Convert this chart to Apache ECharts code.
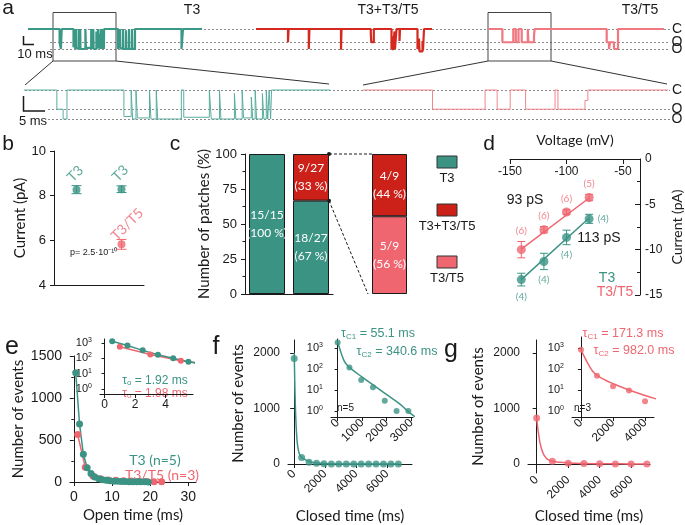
<!DOCTYPE html>
<html><head><meta charset="utf-8"><title>chart</title>
<script src="https://cdn.jsdelivr.net/npm/echarts@6/dist/echarts.min.js"></script>
<style>html,body{margin:0;padding:0;background:#fff;}#chart{width:685px;height:525px;}</style>
</head><body><div id="chart"></div>
<script>
// ================= DATA =================
// Panel a: idealised single-channel recordings, [time (ms), current (pA) from that time on]
const traceLevels = { C: 0, O1: -5.5, O2: -8.3 };
const traceT3 = [[0,0],[31.6,-5.5],[32.9,-8.3],[33.7,0],[45.5,-7.6],[47.0,0],[47.3,-8.3],[48.0,0],[48.3,-8.0],[50.8,0],[51.1,-8.3],[52.2,0],[52.5,-8.3],[57.4,0],[57.9,-7.8],[63.2,0],[63.6,-8.3],[65.3,0],[65.6,-8.3],[68.4,-1],[68.7,-8.3],[70.0,0],[70.3,-8.0],[71.9,-2],[72.2,-8.3],[72.7,0],[73.0,-8.3],[74.2,-1],[74.5,-8.3],[75.0,0],[75.3,-8.3],[75.6,0],[75.9,-8.3],[76.1,0],[90,-8.3],[92,0],[92.3,-8.0],[95,0],[95.4,-8.3],[98,-0.5],[98.4,-8.3],[101,0],[101.3,-8.3],[104,0],[104.4,-8.3],[107,0],[153.5,-8.3],[155,0],[174,0]];
const traceMix = [[0,0],[32,-5.5],[32.6,0],[52.8,-8.3],[53.4,0],[85,-8.6],[85.5,0],[114.8,-2],[115.3,-5.5],[117.8,0],[135.5,-8.3],[136.5,-3],[137,-8.8],[138.5,-1],[139,-8.3],[140.5,0],[143.5,-5],[144,0],[161.5,-8.3],[163,-4],[163.5,-9.3],[166.5,-5],[167,-8.8],[168,0],[176,0]];
const traceT3T5 = [[0,0],[14.4,-5.5],[25.3,0],[27.8,-5.5],[30.5,0],[33.7,-5.5],[39.8,0],[40.4,-5.5],[46,-3],[46.6,0],[118.7,-5.5],[121,-8.3],[122,-5.5],[126,-8.3],[130,0],[176,0]];
const traceT3Window = [25, 88];
const traceT3T5Window = [0, 63];
const rowTitles = ['T3', 'T3+T3/T5', 'T3/T5'];
const mixEventLabels = ['T3/T5','T3','T3','T3/T5','T3','T3/T5','T3'];

// Panel b
const bGroups = ['T3', 'T3+T5'];
const bT3Mean = [8.27, 8.29], bT3Err = [0.18, 0.15], bT3N = [15, 22];
const bHetMean = [null, 5.82], bHetErr = [null, 0.22], bHetN = [null, 9];
const bPText = 'p= 2.5·10⁻¹⁰';

// Panel c
const cGroups = ['T3', 'T3+T5'];
const cT3Count = [15, 18], cMixCount = [null, 9], cTotal = [15, 27];
const cSplitCount = [4, 5], cSplitTotal = 9;          // T3+T3/T5, T3/T5
const cLegend = ['T3', 'T3+T3/T5', 'T3/T5'];

// Panel d
const dVoltage = [-140, -120, -100, -80];
const dT3 = [-13.3, -11.3, -8.65, -6.6], dT3Err = [0.7, 0.9, 0.8, 0.5], dT3N = [4, 4, 4, 4];
const dHet = [-10.0, -7.8, -5.85, -4.25], dHetErr = [0.9, 0.35, 0.25, 0.35], dHetN = [6, 6, 6, 5];
const dFitT3 = [[-140, -13.3], [-80, -6.5]];
const dFitHet = [[-140, -9.95], [-80, -4.3]];
const dConductance = ['113 pS', '93 pS'];

// Panel e: open-time histogram
const eOpenT3 = [[0.5,1300],[1.5,690],[2.5,330],[3.5,170],[4.5,100],[5.5,60],[6.5,40],[7.5,28],[8.5,20],[9.5,14],[10.5,10],[11.5,8],[12.5,6],[13.5,5],[14.5,4],[15.5,3],[16.5,3],[17.5,2],[18.5,2],[19.5,1]];
const eOpenHet = [[1,565],[3,175],[5,70],[7,40],[9,25],[11,20],[13,15],[15,12],[17,9],[19,6],[21,4],[23,3]];
const eTau = ['1.92 ms', '1.98 ms'];
const eLegend = ['T3 (n=5)', 'T3/T5 (n=3)'];

// Panel f: closed-time histogram, T3
const fClosed = [[0,1900],[480,119],[960,30.5],[1440,13.6],[1920,3.1],[2400,1.0],[2880,1.0],[3360,0.6],[3840,0.5],[4320,0.5],[4800,0.5],[5280,0.5],[5760,0.5],[6240,0.5],[6720,0.5]];
const fFit = [[0,2000],[50,1300],[100,850],[150,560],[200,380],[300,210],[400,150],[500,115],[1000,42],[1500,16],[2000,6],[2500,2.3],[3060,0.64],[4000,0.12],[5000,0.02],[6720,0.001]];
const fTau = ['55.1 ms', '340.6 ms'], fN = 'n=5';

// Panel g: closed-time histogram, T3/T5
const gClosed = [[0,830],[1000,48],[2000,15],[3000,9.5],[4000,2.9],[5000,1.5],[6000,1],[7000,1]];
const gFit = [[0,830],[200,400],[400,200],[600,110],[800,68],[1000,50],[1500,30],[2000,20],[3000,10],[4000,5.5],[4580,4],[6000,2],[7000,1.2]];
const gTau = ['171.3 ms', '982.0 ms'], gN = 'n=3';

// ================= STYLE / LAYOUT =================
const TEAL = '#3b9384', RED = '#cc2119', PINK = '#ef6670', AX = '#1a1a1a';
const FONT = '"Liberation Sans", Arial, sans-serif';
const TFONT = 'Lato, "Liberation Sans", sans-serif';

function merge(a, b) {
  const r = Object.assign({}, a);
  for (const k in b) {
    if (b[k] && typeof b[k] === 'object' && !Array.isArray(b[k]) && a[k] && typeof a[k] === 'object' && !Array.isArray(a[k])) r[k] = merge(a[k], b[k]);
    else r[k] = b[k];
  }
  return r;
}
const baseAxis = {
  type: 'value',
  splitLine: { show: false },
  axisLine: { show: true, lineStyle: { color: AX, width: 1 } },
  axisTick: { show: true, length: 4, lineStyle: { color: AX } },
  axisLabel: { color: AX, fontSize: 12, fontFamily: FONT, formatter: v => String(v) },
  nameTextStyle: { color: AX, fontFamily: TFONT, fontSize: 15 }
};
const vAxis = o => merge(baseAxis, o);
const hidden = o => Object.assign({ type: 'value', show: false }, o);

const grids = [], xAxes = [], yAxes = [], series = [], graphics = [], rotItems = [];
function addGrid(g, x, y) {
  grids.push(g); const i = grids.length - 1;
  xAxes.push(Object.assign({ gridIndex: i }, x));
  yAxes.push(Object.assign({ gridIndex: i }, y));
  return i;
}
function txt(x, y, s, o) {
  return { type: 'text', x, y, style: Object.assign({ text: s, fill: AX, fontSize: 13, fontFamily: FONT, align: 'center', verticalAlign: 'middle' }, o || {}) };
}
// rotated text: drawn as a rotated series label on a full-canvas overlay grid
function rtxt(x, y, s, deg, o) {
  o = o || {};
  rotItems.push({ value: [x, y], label: { show: true, formatter: s, position: [0, 0], rotate: deg,
    align: o.align || 'center', verticalAlign: 'middle', color: o.fill || AX, fontSize: o.fontSize || 13, fontFamily: o.fontFamily || FONT } });
}
function line(x1, y1, x2, y2, st) {
  return { type: 'line', shape: { x1, y1, x2, y2 }, style: Object.assign({ stroke: AX, lineWidth: 1 }, st || {}) };
}
function errSeries(xi, data, color, cap) {
  return { type: 'custom', xAxisIndex: xi, yAxisIndex: xi, data, silent: true, z: 4, itemStyle: { color },
    renderItem: (p, api) => {
      const x = api.value(0), y = api.value(1), e = api.value(2);
      const hi = api.coord([x, y + e]), lo = api.coord([x, y - e]);
      const st = { stroke: color, lineWidth: 1 };
      return { type: 'group', children: [
        { type: 'line', shape: { x1: hi[0], y1: hi[1], x2: lo[0], y2: lo[1] }, style: st },
        { type: 'line', shape: { x1: hi[0] - cap, y1: hi[1], x2: hi[0] + cap, y2: hi[1] }, style: st },
        { type: 'line', shape: { x1: lo[0] - cap, y1: lo[1], x2: lo[0] + cap, y2: lo[1] }, style: st }
      ] };
    } };
}

// ---------- Panel a ----------
const TOP = { c: 29, o2: 49, pad: 12 }, BOT = { c: 90, o2: 119, pad: 12 };
function rowMap(r) {
  const k = (r.o2 - r.c) / (-traceLevels.O2);
  return { top: r.c - r.pad, height: (r.o2 - r.c) + 2 * r.pad, max: r.pad / k, min: traceLevels.O2 - r.pad / k, k, c: r.c };
}
const tm = rowMap(TOP), bm = rowMap(BOT);
const levelPx = (m, L) => m.c - L * m.k;
function traceGrid(m, left, width, xmin, xmax) {
  return addGrid({ left, top: m.top, width, height: m.height }, hidden({ min: xmin, max: xmax }), hidden({ min: m.min, max: m.max }));
}
function traceSeries(i, data, color, w) {
  return { type: 'line', xAxisIndex: i, yAxisIndex: i, data, step: 'end', symbol: 'none', silent: true, z: 3,
    lineStyle: { color, width: w } };
}
const gTopG = traceGrid(tm, 28, 174, 0, traceT3[traceT3.length - 1][0]);
const gTopR = traceGrid(tm, 256, 176, 0, traceMix[traceMix.length - 1][0]);
const gTopP = traceGrid(tm, 488, 176, 0, traceT3T5[traceT3T5.length - 1][0]);
const gBotG = traceGrid(bm, 25, 304, traceT3Window[0], traceT3Window[1]);
const gBotP = traceGrid(bm, 363, 304, traceT3T5Window[0], traceT3T5Window[1]);
series.push(traceSeries(gTopG, traceT3, '#3a9886', 2.2));
series.push(traceSeries(gTopR, traceMix, '#d5281e', 2.2));
series.push(traceSeries(gTopP, traceT3T5, '#f07880', 2.2));
series.push(traceSeries(gBotG, traceT3, '#5aae9f', 1));
series.push(traceSeries(gBotP, traceT3T5, '#f0868c', 1));

// dotted level lines + labels
const lvl = [traceLevels.C, traceLevels.O1, traceLevels.O2], lvlTxt = ['C', 'O', 'O'];
[[tm, 28, 50], [bm, 25, 48]].forEach(([m, xc, xo]) => {
  lvl.forEach((L, j) => {
    const y = Math.round(levelPx(m, L)) + 0.5;
    graphics.push(line(j === 0 ? xc : xo, y, 670, y, { stroke: '#8a8a8a', lineDash: [2, 2] }));
    graphics.push(txt(677, y, lvlTxt[j], { fontSize: 14 }));
  });
});
graphics.push(txt(192, 10, rowTitles[0], { fontSize: 14 }));
graphics.push(txt(388, 10, rowTitles[1], { fontSize: 14 }));
graphics.push(txt(640, 10, rowTitles[2], { fontSize: 14 }));
// scale bars
graphics.push({ type: 'polyline', shape: { points: [[23.5, 36], [23.5, 44.5], [34, 44.5]] }, style: { stroke: AX, lineWidth: 1.5, fill: null } });
rtxt(12, 34, '5 pA', 90, { fontSize: 13 });
graphics.push(txt(35, 54, '10 ms', { fontSize: 13 }));
graphics.push({ type: 'polyline', shape: { points: [[23.5, 96], [23.5, 111], [45, 111]] }, style: { stroke: AX, lineWidth: 1.5, fill: null } });
rtxt(12, 101, '5 pA', 90, { fontSize: 13 });
graphics.push(txt(33, 121, '5 ms', { fontSize: 13 }));
// slanted event labels
const evPos = [[277, 64], [307, 61], [337, 61], [362, 64], [383, 60], [401, 64], [423, 61]];
mixEventLabels.forEach((s, i) => {
  rtxt(evPos[i][0], evPos[i][1], s, 38, { fill: s === 'T3' ? '#2f7f6f' : '#f0707a', fontSize: 13, fontFamily: TFONT });
});

// ---------- Panel b ----------
const gB = addGrid({ left: 54, top: 151, width: 90, height: 134 },
  merge(baseAxis, { type: 'category', data: bGroups, axisTick: { show: false }, axisLabel: { show: false } }),
  vAxis({ min: 4, max: 10, interval: 2, axisLabel: { fontSize: 13 }, name: 'Current (pA)', nameLocation: 'middle', nameGap: 26 }));
series.push(errSeries(gB, bT3Mean.map((v, i) => [i, v, bT3Err[i]]), TEAL, 5));
series.push(errSeries(gB, bHetMean.map((v, i) => v == null ? null : [i, v, bHetErr[i]]).filter(Boolean), PINK, 5));
series.push({ type: 'scatter', xAxisIndex: gB, yAxisIndex: gB, symbolSize: 8, z: 5, itemStyle: { color: TEAL },
  data: bT3Mean.map((v, i) => ({ value: [i, v], label: { show: true, formatter: 'T3', position: [-3, -6], rotate: 45, align: 'left', verticalAlign: 'middle', color: TEAL, fontSize: 14, fontFamily: TFONT } })) });
series.push({ type: 'scatter', xAxisIndex: gB, yAxisIndex: gB, symbolSize: 8, z: 5, itemStyle: { color: PINK },
  data: bHetMean.map((v, i) => v == null ? null : ({ value: [i, v], label: { show: true, formatter: 'T3/T5', position: [-4, -2], rotate: 45, align: 'left', verticalAlign: 'middle', color: PINK, fontSize: 14, fontFamily: TFONT } })).filter(Boolean) });
series.push({ type: 'scatter', xAxisIndex: gB, yAxisIndex: gB, symbolSize: 8, z: 1, itemStyle: { opacity: 0 },
  label: { show: true, position: 'bottom', distance: 4, fontSize: 12, fontFamily: TFONT, formatter: p => '(' + p.value[2] + ')' },
  data: bT3Mean.map((v, i) => ({ value: [i, v, bT3N[i]], label: { color: TEAL } }))
    .concat(bHetMean.map((v, i) => v == null ? null : { value: [i, v, bHetN[i]], label: { color: PINK } }).filter(Boolean)) });
graphics.push(txt(70, 253, bPText, { fontSize: 9, align: 'left' }));

// ---------- Panel c ----------
const cBarW = 36;
const gC = addGrid({ left: 245, top: 154, width: 88, height: 140 },
  merge(baseAxis, { type: 'category', data: cGroups, axisTick: { show: false }, axisLabel: { show: false } }),
  vAxis({ min: 0, max: 100, interval: 25, minorTick: { show: true, splitNumber: 2, length: 2.5, lineStyle: { color: AX } }, axisLabel: { fontSize: 13 }, name: 'Number of patches (%)', nameLocation: 'middle', nameGap: 32 }));
const barLbl = { show: true, color: '#fff', fontSize: 12, fontFamily: TFONT, lineHeight: 18 };
const pctItem = (n, tot) => n == null ? '-' :
  { value: 100 * n / tot, label: { formatter: n + '/' + tot + '\n(' + Math.round(100 * n / tot) + ' %)' } };
series.push({ type: 'bar', xAxisIndex: gC, yAxisIndex: gC, stack: 'c', barWidth: cBarW, itemStyle: { color: TEAL, borderColor: '#1a1a1a', borderWidth: 1 },
  label: barLbl, data: cT3Count.map((n, i) => pctItem(n, cTotal[i])) });
series.push({ type: 'bar', xAxisIndex: gC, yAxisIndex: gC, stack: 'c', barWidth: cBarW, itemStyle: { color: RED, borderColor: '#1a1a1a', borderWidth: 1 },
  label: barLbl, data: cMixCount.map((n, i) => pctItem(n, cTotal[i])) });
const gC3 = addGrid({ left: 368, top: 154, width: 43, height: 140 },
  { type: 'category', data: ['T3+T5'], show: false }, hidden({ min: 0, max: 100 }));
series.push({ type: 'bar', xAxisIndex: gC3, yAxisIndex: gC3, stack: 'c3', barWidth: 35, itemStyle: { color: PINK, borderColor: '#1a1a1a', borderWidth: 1 },
  label: barLbl, data: [pctItem(cSplitCount[1], cSplitTotal)] });
series.push({ type: 'bar', xAxisIndex: gC3, yAxisIndex: gC3, stack: 'c3', barWidth: 35, itemStyle: { color: RED, borderColor: '#1a1a1a', borderWidth: 1 },
  label: barLbl, data: [pctItem(cSplitCount[0], cSplitTotal)] });
[[TEAL, 162], [RED, 210], [PINK, 262]].forEach(([col, y], i) => {
  graphics.push({ type: 'rect', shape: { x: 437, y: y - 6, width: 20, height: 12 }, style: { fill: col, stroke: '#333', lineWidth: 1 } });
  graphics.push(txt(447, y + 16, cLegend[i], { fontSize: 13 }));
});

// ---------- Panel d ----------
const gD = addGrid({ left: 510, top: 159, width: 130, height: 136 },
  vAxis({ position: 'top', min: -150, max: -35, axisTick: { inside: true, length: 5, customValues: [-150, -100, -50] },
    axisLabel: { inside: true, customValues: [-150, -100, -50], fontSize: 12, margin: 7 },
    name: 'Voltage (mV)', nameLocation: 'middle', nameGap: 12, nameTextStyle: { fontSize: 14 } }),
  vAxis({ position: 'right', min: -15, max: 0, interval: 5, axisTick: { inside: true, length: 5 },
    minorTick: { show: true, splitNumber: 2, length: 3, lineStyle: { color: AX } },
    axisLabel: { fontSize: 12, margin: 5 }, name: 'Current (pA)', nameLocation: 'middle', nameRotate: 90, nameGap: 30, nameTextStyle: { fontSize: 14 } }));
const dK = 136 / 15;
series.push({ type: 'line', xAxisIndex: gD, yAxisIndex: gD, data: dFitHet, symbol: 'none', lineStyle: { color: PINK, width: 1.5 }, silent: true });
series.push({ type: 'line', xAxisIndex: gD, yAxisIndex: gD, data: dFitT3, symbol: 'none', lineStyle: { color: TEAL, width: 1.5 }, silent: true });
series.push(errSeries(gD, dVoltage.map((v, i) => [v, dHet[i], dHetErr[i]]), PINK, 4));
series.push(errSeries(gD, dVoltage.map((v, i) => [v, dT3[i], dT3Err[i]]), TEAL, 4));
series.push({ type: 'scatter', xAxisIndex: gD, yAxisIndex: gD, symbolSize: 9, z: 5, itemStyle: { color: PINK },
  data: dVoltage.map((v, i) => ({ value: [v, dHet[i]], label: { show: true, position: 'top', distance: dHetErr[i] * dK + 1, formatter: '(' + dHetN[i] + ')', color: PINK, fontSize: 10, fontFamily: TFONT } })) });
series.push({ type: 'scatter', xAxisIndex: gD, yAxisIndex: gD, symbolSize: 9, z: 5, itemStyle: { color: TEAL },
  data: dVoltage.map((v, i) => ({ value: [v, dT3[i]], label: { show: true, position: i === 3 ? 'right' : 'bottom', distance: i === 3 ? 4 : dT3Err[i] * dK + 1, formatter: '(' + dT3N[i] + ')', color: TEAL, fontSize: 10, fontFamily: TFONT } })) });
graphics.push(txt(525, 200, dConductance[1], { fontSize: 14 }));
graphics.push(txt(599, 238, dConductance[0], { fontSize: 14 }));
graphics.push(txt(607, 278, 'T3', { fontSize: 14, fill: TEAL }));
graphics.push(txt(615, 292, 'T3/T5', { fontSize: 14, fill: PINK }));

// ---------- Panel e ----------
const logLbl = { fontSize: 11, customValues: [1, 10, 100, 1000], formatter: v => '{b|10}{s|' + Math.round(Math.log10(v)) + '}',
  rich: { b: { fontSize: 11, fontFamily: FONT, color: AX }, s: { fontSize: 7, fontFamily: FONT, color: AX, verticalAlign: 'top', padding: [0, 0, 6, 0] } } };
const gE = addGrid({ left: 70, top: 356, width: 126, height: 126 },
  vAxis({ min: -1, max: 32, axisTick: { customValues: [0, 10, 20, 30] }, axisLabel: { customValues: [0, 10, 20, 30], fontSize: 14 },
    name: 'Open time (ms)', nameLocation: 'middle', nameGap: 26 }),
  vAxis({ min: 0, max: 1500, interval: 500, minorTick: { show: true, splitNumber: 2, length: 2.5, lineStyle: { color: AX } }, axisLabel: { fontSize: 14 },
    name: 'Number of events', nameLocation: 'middle', nameGap: 44 }));
const histLine = (i, data, col, sz) => ({ type: 'line', xAxisIndex: i, yAxisIndex: i, data, symbol: 'circle', symbolSize: sz, showAllSymbol: true,
  itemStyle: { color: col }, lineStyle: { color: col, width: 1.5 }, silent: true });
series.push(histLine(gE, eOpenHet, PINK, 7));
series.push(histLine(gE, eOpenT3, TEAL, 7));
const gEi = addGrid({ left: 100, top: 339, width: 93, height: 55 },
  vAxis({ min: -0.3, max: 5.8, axisTick: { customValues: [0, 2, 4] }, axisLabel: { customValues: [0, 2, 4], fontSize: 12, margin: 5 } }),
  vAxis({ type: 'log', min: 0.47, max: 1820, axisTick: { customValues: [1, 10, 100, 1000], length: 3 }, axisLabel: logLbl }));
series.push(histLine(gEi, eOpenHet, PINK, 6));
series.push(histLine(gEi, eOpenT3, TEAL, 6));
graphics.push(txt(155, 381, 'τ{sub|o} = ' + eTau[0], { fill: TEAL, fontSize: 12, rich: { sub: { fontSize: 8, fill: TEAL, verticalAlign: 'bottom' } } }));
graphics.push(txt(155, 394, 'τ{sub|o} = ' + eTau[1], { fill: PINK, fontSize: 12, rich: { sub: { fontSize: 8, fill: PINK, verticalAlign: 'bottom' } } }));
graphics.push(txt(155, 460, eLegend[0], { fill: TEAL, fontSize: 14, fontFamily: TFONT }));
graphics.push(txt(162, 475, eLegend[1], { fill: PINK, fontSize: 14, fontFamily: TFONT }));

// ---------- Panel f ----------
const gF = addGrid({ left: 288, top: 340, width: 124, height: 127 },
  vAxis({ min: -400, max: 7600, axisTick: { customValues: [0, 2000, 4000, 6000] }, axisLabel: { customValues: [0, 2000, 4000, 6000], rotate: 45, fontSize: 12, margin: 5 },
    name: 'Closed time (ms)', nameLocation: 'middle', nameGap: 42 }),
  vAxis({ min: -54, max: 2234, axisTick: { customValues: [0, 1000, 2000] }, axisLabel: { customValues: [0, 1000, 2000], fontSize: 12 },
    name: 'Number of events', nameLocation: 'middle', nameGap: 42 }));
const fitLine = (i, data, col) => ({ type: 'line', xAxisIndex: i, yAxisIndex: i, data, symbol: 'none', smooth: true, lineStyle: { color: col, width: 1.5 }, silent: true });
const dots = (i, data, col, sz) => ({ type: 'scatter', xAxisIndex: i, yAxisIndex: i, data, symbolSize: sz, itemStyle: { color: col }, silent: true });
series.push(fitLine(gF, fFit, TEAL), dots(gF, fClosed, TEAL, 7));
const gFi = addGrid({ left: 331, top: 339, width: 82, height: 78 },
  vAxis({ min: -270, max: 3070, axisTick: { customValues: [0, 1000, 2000, 3000] }, axisLabel: { customValues: [0, 1000, 2000, 3000], rotate: 45, fontSize: 12, margin: 4 } }),
  vAxis({ type: 'log', min: 0.516, max: 2786, axisTick: { customValues: [1, 10, 100, 1000], length: 3 }, axisLabel: logLbl }));
series.push(fitLine(gFi, fFit, TEAL), dots(gFi, fClosed, TEAL, 6));
graphics.push(txt(378, 334, 'τ{sub|C1} = ' + fTau[0], { fill: TEAL, fontSize: 12.5, rich: { sub: { fontSize: 8, fill: TEAL, verticalAlign: 'bottom' } } }));
graphics.push(txt(397, 352, 'τ{sub|C2} = ' + fTau[1], { fill: TEAL, fontSize: 12.5, rich: { sub: { fontSize: 8, fill: TEAL, verticalAlign: 'bottom' } } }));
graphics.push(txt(337, 408, fN, { fontSize: 10, align: 'left' }));

// ---------- Panel g ----------
const gG = addGrid({ left: 528, top: 340, width: 122, height: 133 },
  vAxis({ min: -550, max: 7200, axisTick: { customValues: [0, 2000, 4000, 6000] }, axisLabel: { customValues: [0, 2000, 4000, 6000], rotate: 45, fontSize: 12, margin: 5 },
    name: 'Closed time (ms)', nameLocation: 'middle', nameGap: 36 }),
  vAxis({ min: -162, max: 2234, axisTick: { customValues: [0, 1000, 2000] }, axisLabel: { customValues: [0, 1000, 2000], fontSize: 12 },
    name: 'Number of events', nameLocation: 'middle', nameGap: 42 }));
series.push(fitLine(gG, gFit, PINK), dots(gG, gClosed, PINK, 7));
const gGi = addGrid({ left: 572, top: 337, width: 82, height: 80 },
  vAxis({ min: -560, max: 4560, axisTick: { customValues: [0, 2000, 4000] }, axisLabel: { customValues: [0, 2000, 4000], rotate: 45, fontSize: 12, margin: 4 } }),
  vAxis({ type: 'log', min: 0.518, max: 3340, axisTick: { customValues: [1, 10, 100, 1000], length: 3 }, axisLabel: logLbl }));
series.push(fitLine(gGi, gFit, PINK), dots(gGi, gClosed, PINK, 6));
graphics.push(txt(623, 334, 'τ{sub|C1} = ' + gTau[0], { fill: PINK, fontSize: 12.5, rich: { sub: { fontSize: 8, fill: PINK, verticalAlign: 'bottom' } } }));
graphics.push(txt(634, 351, 'τ{sub|C2} = ' + gTau[1], { fill: PINK, fontSize: 12.5, rich: { sub: { fontSize: 8, fill: PINK, verticalAlign: 'bottom' } } }));
graphics.push(txt(574, 408, gN, { fontSize: 10, align: 'left' }));

// panel letters
[['a', 8, 8, 21], ['b', 8, 144, 21], ['c', 175, 144, 21], ['d', 489, 144, 21], ['e', 12, 347, 25], ['f', 216, 347, 25], ['g', 451, 350, 25]]
  .forEach(([s, x, y, fs]) => graphics.push(txt(x, y, s, { fontSize: fs })));

// full-canvas overlay grid (pixel space) for rotated annotation labels
const gOv = addGrid({ left: 0, top: 0, width: 685, height: 525 }, hidden({ min: 0, max: 685 }), hidden({ min: 0, max: 525, inverse: true }));

// ================= RENDER =================
const chart = echarts.init(document.getElementById('chart'), null, { renderer: 'canvas', width: 685, height: 525 });
chart.setOption({ animation: false, backgroundColor: '#fff', textStyle: { fontFamily: FONT }, grid: grids, xAxis: xAxes, yAxis: yAxes, series });

// rotated category labels for panels b and c, anchored at the axis positions
[[gB, bGroups], [gC, cGroups]].forEach(([gi, names]) => {
  names.forEach(nm => {
    const p = chart.convertToPixel({ gridIndex: gi }, [nm, gi === gB ? 4 : 0]);
    rtxt(p[0] + 4, p[1] + 7, nm, 45, { align: 'right', fontSize: 13 });
  });
});

// boxes & connectors derived from axes
const px = (i, t) => chart.convertToPixel({ xAxisIndex: i }, t);
const boxes = [[gTopG, traceT3Window, gBotG], [gTopP, traceT3T5Window, gBotP]];
boxes.forEach(([gi, w, bi]) => {
  const x1 = px(gi, w[0]), x2 = px(gi, w[1]);
  graphics.push({ type: 'rect', shape: { x: x1, y: 12.5, width: x2 - x1, height: 48.5 }, style: { fill: null, stroke: '#444', lineWidth: 1 } });
  const b1 = px(bi, w[0]), b2 = px(bi, w[1]);
  graphics.push(line(x1, 61, b1, 85, { stroke: '#333' }));
  graphics.push(line(x2, 61, b2, 84, { stroke: '#333' }));
});
const pTop = chart.convertToPixel({ gridIndex: gC }, [1, 100]);
const pMid = chart.convertToPixel({ gridIndex: gC }, [1, 100 * cT3Count[1] / cTotal[1]]);
const q3top = chart.convertToPixel({ gridIndex: gC3 }, [0, 100]);
const q3bot = chart.convertToPixel({ gridIndex: gC3 }, [0, 0]);
const xr = pTop[0] + cBarW / 2, xl = q3top[0] - 35 / 2;
graphics.push(line(xr, pTop[1], xl, q3top[1], { lineDash: [3, 2] }));
graphics.push(line(xr, pMid[1], xl - 4, q3bot[1], { lineDash: [3, 2] }));
graphics.push({ type: 'circle', shape: { cx: xr, cy: pTop[1], r: 2 }, style: { fill: AX } });
graphics.push({ type: 'circle', shape: { cx: xr, cy: pMid[1], r: 2 }, style: { fill: AX } });

const overlay = { type: 'scatter', xAxisIndex: gOv, yAxisIndex: gOv, symbolSize: 1, silent: true, z: 10,
  itemStyle: { opacity: 0 }, data: rotItems };
chart.setOption({ series: series.concat([overlay]), graphic: { elements: graphics } });
</script></body></html>
